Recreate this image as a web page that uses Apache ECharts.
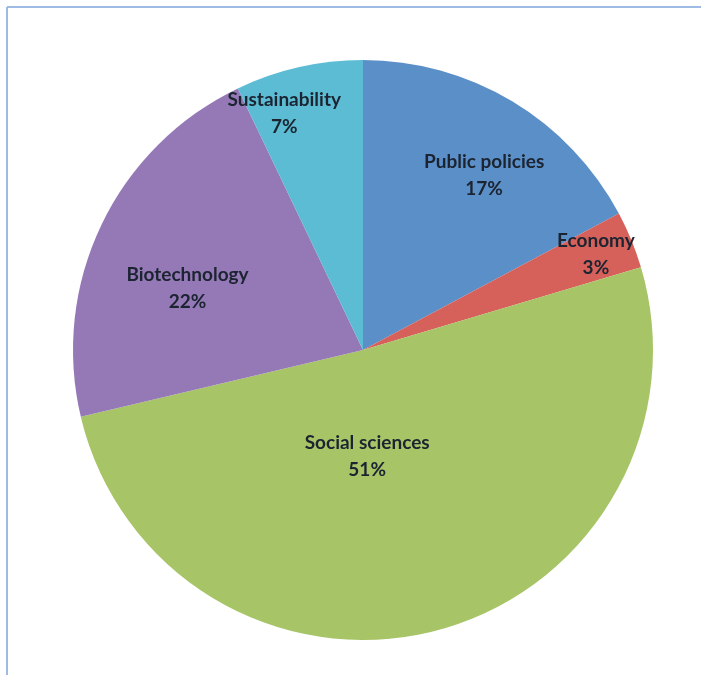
<!DOCTYPE html>
<html>
<head>
<meta charset="utf-8">
<script src="https://cdn.jsdelivr.net/npm/echarts@6/dist/echarts.min.js"></script>
<style>
  html, body { margin: 0; padding: 0; background: #ffffff; }
  #chart { width: 701px; height: 675px; }
</style>
</head>
<body>
<div id="chart"></div>
<script>
// Data
const categories = ['Public policies', 'Economy', 'Social sciences', 'Biotechnology', 'Sustainability'];
const shares = [17.2, 3.2, 50.9, 21.6, 7.1];

// Styles
const colors = ['#5B8FC8', '#D6605A', '#A7C467', '#9579B7', '#5BBCD3'];
const labelOffsets = [[45, -48], [96, -39], [-34, -37], [-42, 2], [-46, -92]];

const chart = echarts.init(document.getElementById('chart'), null, { renderer: 'canvas' });

const data = categories.map((name, i) => ({
  name: name,
  value: shares[i],
  itemStyle: { color: colors[i] },
  label: { offset: labelOffsets[i] }
}));

chart.setOption({
  animation: false,
  backgroundColor: '#ffffff',
  graphic: [
    { type: 'line', shape: { x1: 7, y1: 7, x2: 701, y2: 7 }, style: { stroke: '#9DBBE3', lineWidth: 2 } },
    { type: 'line', shape: { x1: 7, y1: 7, x2: 7, y2: 675 }, style: { stroke: '#9DBBE3', lineWidth: 2 } }
  ],
  series: [{
    type: 'pie',
    center: [363, 350],
    radius: 290,
    startAngle: 90,
    clockwise: true,
    data: data,
    emphasis: { disabled: true },
    itemStyle: { borderWidth: 0 },
    labelLine: { show: false },
    label: {
      show: true,
      position: 'inside',
      formatter: p => p.name + '\n' + Math.round(p.percent) + '%',
      fontFamily: 'Lato',
      fontWeight: 'bold',
      fontSize: 19,
      lineHeight: 27,
      color: '#1c2431',
      align: 'center'
    }
  }]
});
</script>
</body>
</html>
